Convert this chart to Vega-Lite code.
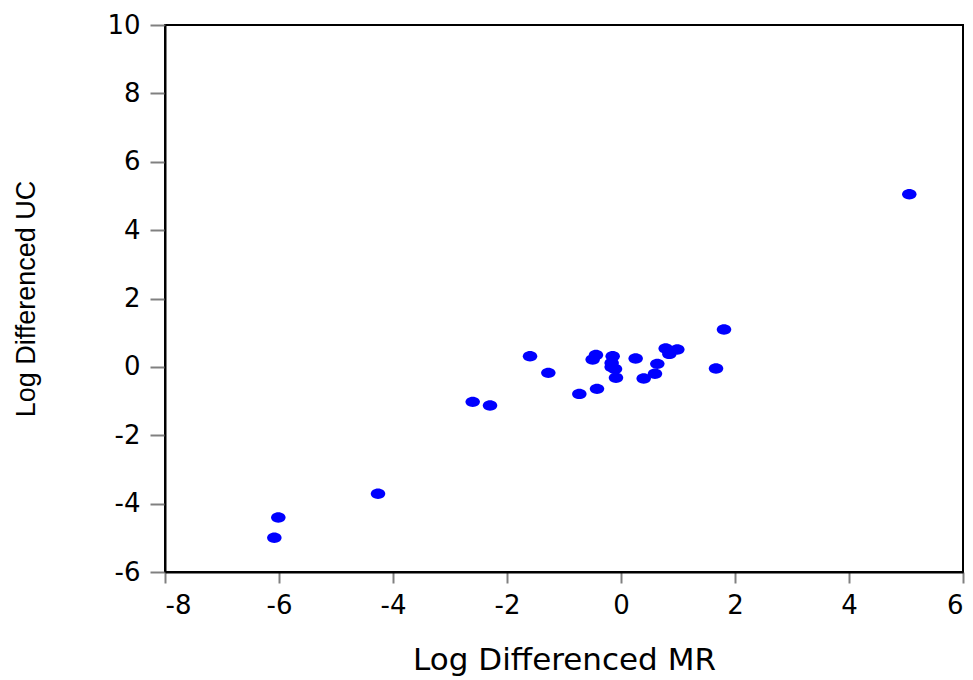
{
  "$schema": "https://vega.github.io/schema/vega-lite/v6.json",
  "width": 798,
  "height": 547,
  "autosize": {"type": "none"},
  "padding": {"left": 165, "top": 25, "right": 10, "bottom": 108},
  "background": "white",
  "config": {
    "view": {"stroke": "black", "strokeWidth": 2},
    "axis": {
      "grid": false,
      "domainColor": "black",
      "domainWidth": 2,
      "tickColor": "#808080",
      "tickWidth": 2,
      "labelColor": "black",
      "titleColor": "black",
      "titleFontWeight": "normal",
      "labelFont": "DejaVu Sans",
      "labelFontSize": 26,
      "labelExpr": "toString(datum.value)"
    }
  },
  "data": {
    "values": [
      {"mr": 1.807, "uc": 1.094},
      {"mr": -1.596, "uc": 0.313},
      {"mr": -1.275, "uc": -0.175},
      {"mr": -2.602, "uc": -1.023},
      {"mr": -2.298, "uc": -1.13},
      {"mr": -0.731, "uc": -0.79},
      {"mr": -0.421, "uc": -0.643},
      {"mr": -0.439, "uc": 0.351},
      {"mr": -0.497, "uc": 0.216},
      {"mr": -0.146, "uc": 0.313},
      {"mr": -0.164, "uc": 0.117},
      {"mr": -0.164, "uc": 0.0},
      {"mr": -0.105, "uc": -0.06},
      {"mr": -0.088, "uc": -0.32},
      {"mr": 0.257, "uc": 0.245},
      {"mr": 0.398, "uc": -0.34},
      {"mr": 0.596, "uc": -0.2},
      {"mr": 0.637, "uc": 0.088},
      {"mr": 0.784, "uc": 0.537},
      {"mr": 0.848, "uc": 0.38},
      {"mr": 0.988, "uc": 0.509},
      {"mr": 1.667, "uc": -0.047},
      {"mr": -4.263, "uc": -3.713},
      {"mr": -6.012, "uc": -4.404},
      {"mr": -6.082, "uc": -5.0},
      {"mr": 5.058, "uc": 5.05}
    ]
  },
  "mark": {
    "type": "point",
    "filled": true,
    "opacity": 1,
    "color": "#0000FF",
    "shape": "M-1,0 A1,0.72 0 1,1 1,0 A1,0.72 0 1,1 -1,0 Z",
    "size": 210
  },
  "encoding": {
    "x": {
      "field": "mr",
      "type": "quantitative",
      "scale": {"domain": [-8, 6], "nice": false, "zero": false},
      "axis": {
        "values": [-8, -6, -4, -2, 0, 2, 4, 6],
        "tickSize": 11,
        "labelPadding": 9,
        "title": "Log Differenced MR",
        "titleFont": "DejaVu Sans",
        "titleFontSize": 31,
        "titlePadding": 27
      }
    },
    "y": {
      "field": "uc",
      "type": "quantitative",
      "scale": {"domain": [-6, 10], "nice": false, "zero": false},
      "axis": {
        "values": [-6, -4, -2, 0, 2, 4, 6, 8, 10],
        "tickSize": 15,
        "labelPadding": 10,
        "title": "Log Differenced UC",
        "titleFont": "Liberation Sans",
        "titleFontSize": 27,
        "titlePadding": 66
      }
    }
  }
}
